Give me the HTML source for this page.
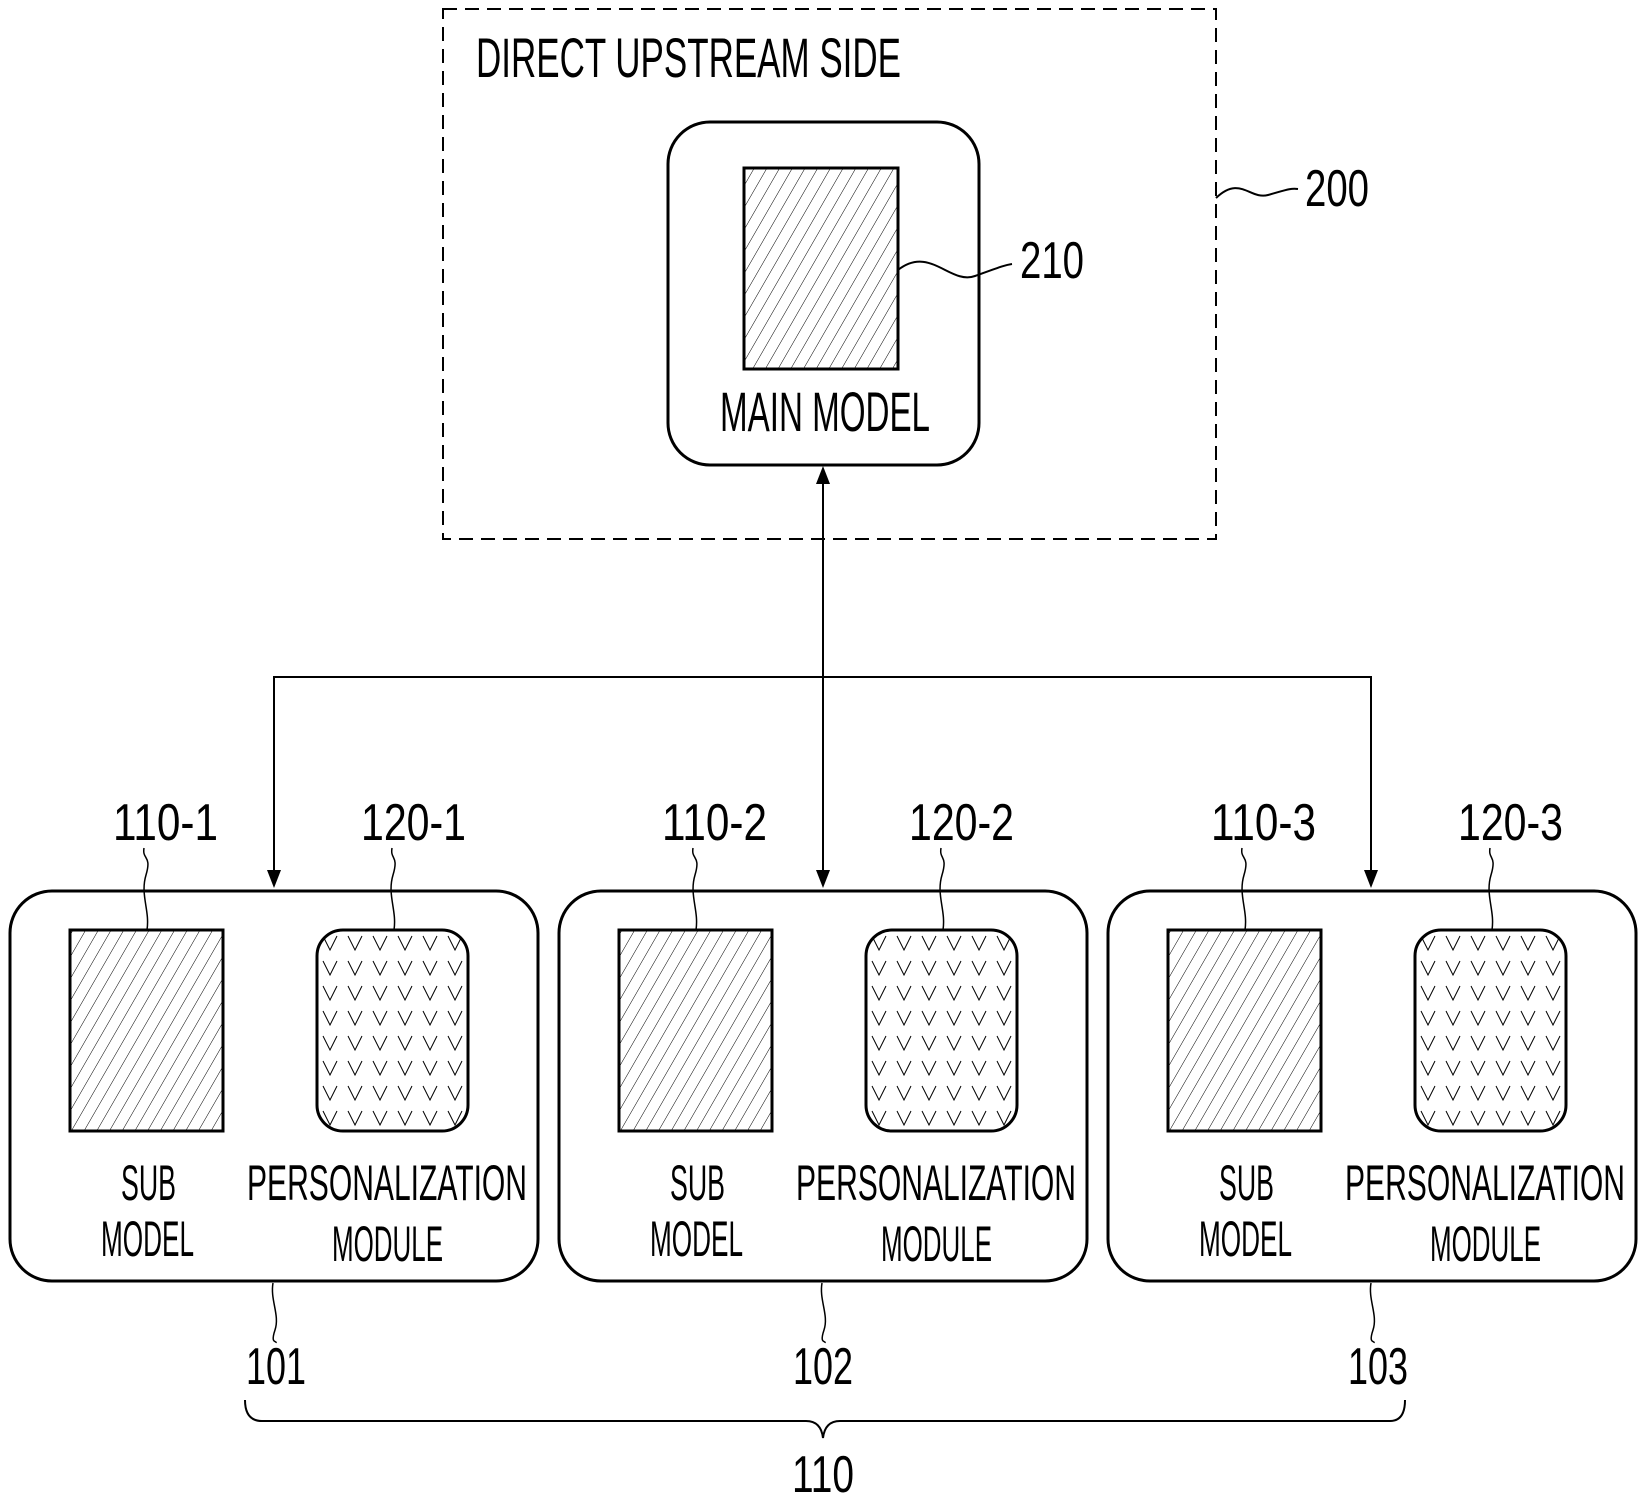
<!DOCTYPE html>
<html><head><style>html,body{margin:0;padding:0;background:#fff}svg{display:block}</style></head>
<body>
<svg width="1643" height="1497" viewBox="0 0 1643 1497" xmlns="http://www.w3.org/2000/svg" font-family="Liberation Sans, sans-serif" fill="none" stroke="#000">
<defs>
<pattern id="h" patternUnits="userSpaceOnUse" width="11" height="11" patternTransform="rotate(30)">
<line x1="0" y1="0" x2="0" y2="11" stroke="#000" stroke-width="1"/>
</pattern>
<pattern id="v" patternUnits="userSpaceOnUse" width="25" height="25" x="318" y="930">
<polyline points="5,6 12,20 19,6" stroke="#000" stroke-width="1" fill="none"/>
</pattern>
</defs>
<g stroke-width="2">
<rect x="443" y="9" width="773" height="530" stroke-dasharray="14,8"/>
<text x="476" y="77" font-size="56" fill="#000" stroke="none" textLength="425" lengthAdjust="spacingAndGlyphs">DIRECT UPSTREAM SIDE</text>
<rect x="668" y="122" width="311" height="343" rx="42" stroke-width="3"/>
<rect x="744" y="168" width="154" height="201" fill="url(#h)" stroke-width="3"/>
<text x="720" y="431" font-size="56" fill="#000" stroke="none" textLength="210" lengthAdjust="spacingAndGlyphs">MAIN MODEL</text>
<path d="M1216,198 C1240,175 1250,200 1268,195 S1290,188 1298,189"/>
<text x="1305" y="206" font-size="52" fill="#000" stroke="none" textLength="64" lengthAdjust="spacingAndGlyphs">200</text>
<path d="M898,270 C930,245 950,285 975,276 S1005,265 1012,264"/>
<text x="1020" y="278" font-size="52" fill="#000" stroke="none" textLength="64" lengthAdjust="spacingAndGlyphs">210</text>
<line x1="823" y1="480" x2="823" y2="872"/>
<polyline points="274,872 274,677 1371,677 1371,872"/>
</g>
<g fill="#000" stroke="none">
<path d="M823,466 L816,484 L830,484Z"/>
<path d="M823,888 L816,870 L830,870Z"/>
<path d="M274,888 L267,870 L281,870Z"/>
<path d="M1371,888 L1364,870 L1378,870Z"/>
</g>
<g id="b1" stroke-width="3">
<rect x="10" y="891" width="528" height="390" rx="42"/>
<rect x="70" y="930" width="153" height="201" fill="url(#h)"/>
<rect x="317" y="930" width="151" height="201" rx="26" fill="url(#v)"/>
<g fill="#000" stroke="none" font-size="50">
<text x="121" y="1200" textLength="55" lengthAdjust="spacingAndGlyphs">SUB</text>
<text x="101" y="1256" textLength="93" lengthAdjust="spacingAndGlyphs">MODEL</text>
<text x="247" y="1200" textLength="280" lengthAdjust="spacingAndGlyphs">PERSONALIZATION</text>
<text x="332" y="1261" textLength="111" lengthAdjust="spacingAndGlyphs">MODULE</text>
</g>
<path d="M147,930 C150,910 140,895 146,875 S142,860 144,848" stroke-width="1.5"/>
<path d="M394,930 C397,910 387,895 393,875 S390,860 392,848" stroke-width="1.5"/>
<path d="M273,1283 C270,1300 280,1315 275,1330 S277,1340 276,1343" stroke-width="1.5"/>
</g>
<use href="#b1" x="549"/>
<use href="#b1" x="1098"/>
<g fill="#000" stroke="none" font-size="52">
<text x="113" y="840" textLength="105" lengthAdjust="spacingAndGlyphs">110-1</text>
<text x="361" y="840" textLength="105" lengthAdjust="spacingAndGlyphs">120-1</text>
<text x="662" y="840" textLength="105" lengthAdjust="spacingAndGlyphs">110-2</text>
<text x="909" y="840" textLength="105" lengthAdjust="spacingAndGlyphs">120-2</text>
<text x="1211" y="840" textLength="105" lengthAdjust="spacingAndGlyphs">110-3</text>
<text x="1458" y="840" textLength="105" lengthAdjust="spacingAndGlyphs">120-3</text>
<text x="246" y="1384" textLength="60" lengthAdjust="spacingAndGlyphs">101</text>
<text x="793" y="1384" textLength="60" lengthAdjust="spacingAndGlyphs">102</text>
<text x="1348" y="1384" textLength="60" lengthAdjust="spacingAndGlyphs">103</text>
<text x="792" y="1492" textLength="62" lengthAdjust="spacingAndGlyphs">110</text>
</g>
<path d="M245,1400 Q245,1421 262,1421 L806,1421 Q821,1421 823,1438 Q825,1421 840,1421 L1390,1421 Q1405,1421 1405,1400" stroke-width="2"/>
</svg>
</body></html>
